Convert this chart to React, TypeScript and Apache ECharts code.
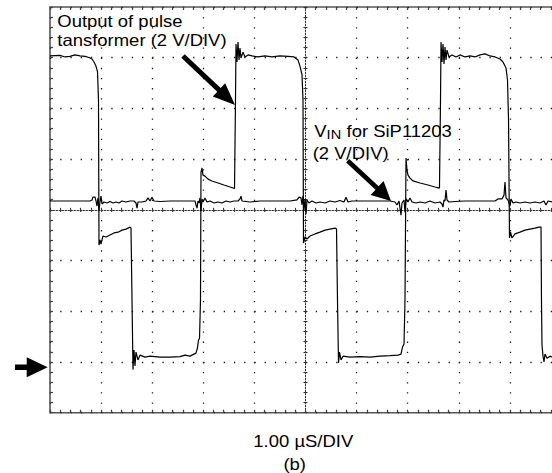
import React, { useEffect, useRef } from 'react';
import * as echarts from 'echarts';

// Time in µs (1.00 µS/DIV, 0 = screen centre), voltage in V (2 V/DIV)
const timeMin = -5;
const timeMax = 5;
const timeStep = 1;
const voltMin = -8;
const voltMax = 8;
const voltStep = 2;

// Output of pulse transformer
const pulseTransformer: [number, number][] = [
  [-5.000, 6.07], [-4.804, 6.09], [-4.706, 6.03], [-4.609, 6.05], [-4.511, 6.11], [-4.413, 6.07],
  [-4.315, 6.05], [-4.237, 6.01], [-4.178, 5.95], [-4.139, 5.83], [-4.100, 5.67], [-4.070, 5.44],
  [-4.051, 4.33], [-4.041, -1.39], [-4.022, -1.18], [-4.002, -1.35], [-3.963, -1.03], [-3.904, -1.07],
  [-3.826, -0.99], [-3.748, -0.91], [-3.669, -0.88], [-3.591, -0.80], [-3.513, -0.76], [-3.434, -0.68],
  [-3.415, -0.72], [-3.395, -3.56], [-3.376, -6.30], [-3.356, -5.53], [-3.337, -6.16], [-3.317, -5.61],
  [-3.278, -5.92], [-3.239, -5.73], [-3.141, -5.81], [-3.043, -5.77], [-2.847, -5.81], [-2.652, -5.81],
  [-2.456, -5.79], [-2.358, -5.73], [-2.260, -5.77], [-2.182, -5.69], [-2.143, -5.65], [-2.114, -5.45],
  [-2.094, -5.14], [-2.074, -5.06], [-2.055, -3.56], [-2.045, 1.49], [-2.025, 1.65], [-2.006, 1.37],
  [-1.967, 1.33], [-1.908, 1.21], [-1.830, 1.14], [-1.712, 1.06], [-1.595, 0.98], [-1.477, 0.90],
  [-1.389, 0.84], [-1.370, 4.33], [-1.360, 6.54], [-1.341, 5.83], [-1.321, 6.62], [-1.301, 5.91],
  [-1.282, 6.38], [-1.262, 5.99], [-1.223, 6.22], [-1.184, 6.03], [-1.125, 6.11], [-1.047, 6.07],
  [-0.930, 6.03], [-0.793, 6.07], [-0.656, 6.03], [-0.499, 6.07], [-0.342, 6.05], [-0.225, 6.03],
  [-0.147, 5.91], [-0.108, 5.67], [-0.068, 5.32], [-0.049, 4.33], [-0.039, -1.31], [-0.010, -1.07],
  [0.029, -1.15], [0.088, -1.03], [0.186, -0.95], [0.284, -0.88], [0.382, -0.80], [0.479, -0.76],
  [0.577, -0.72], [0.607, -0.76], [0.626, -3.56], [0.646, -6.04], [0.665, -5.61], [0.695, -5.92],
  [0.734, -5.77], [0.871, -5.81], [1.067, -5.79], [1.262, -5.81], [1.458, -5.77], [1.654, -5.75],
  [1.810, -5.73], [1.869, -5.69], [1.898, -5.41], [1.928, -5.29], [1.947, -3.56], [1.967, 2.04],
  [1.986, 1.57], [2.006, 1.37], [2.045, 1.25], [2.104, 1.14], [2.241, 1.06], [2.397, 0.98],
  [2.534, 0.90], [2.622, 0.86], [2.642, 4.33], [2.652, 6.62], [2.671, 5.83], [2.691, 6.54],
  [2.710, 5.75], [2.730, 6.42], [2.750, 5.91], [2.769, 6.30], [2.808, 6.03], [2.867, 6.11],
  [2.945, 6.03], [3.023, 6.11], [3.121, 6.03], [3.219, 6.07], [3.317, 6.03], [3.415, 6.11],
  [3.513, 6.15], [3.611, 6.07], [3.708, 6.03], [3.806, 5.95], [3.865, 5.83], [3.924, 5.59],
  [3.953, 5.12], [3.973, 3.54], [3.992, -1.11], [4.012, -0.88], [4.041, -1.11], [4.100, -0.95],
  [4.198, -0.88], [4.295, -0.80], [4.393, -0.76], [4.491, -0.72], [4.569, -0.68], [4.609, -0.68],
  [4.618, -3.56], [4.628, -5.33], [4.648, -5.77], [4.667, -6.00], [4.687, -5.69], [4.726, -5.85],
  [4.785, -5.77], [4.824, -5.81],
];

// VIN for SiP11203
const vinSiP11203: [number, number][] = [
  [-5.000, 0.35], [-4.804, 0.35], [-4.609, 0.35], [-4.413, 0.35], [-4.217, 0.35], [-4.178, 0.39],
  [-4.159, 0.50], [-4.119, 0.50], [-4.100, 0.35], [-4.080, 0.15], [-4.061, 0.47], [-4.041, -0.01],
  [-4.022, 0.31], [-4.002, 0.54], [-3.982, 0.23], [-3.943, 0.31], [-3.885, 0.27], [-3.826, 0.33],
  [-3.767, 0.27], [-3.708, 0.31], [-3.650, 0.27], [-3.591, 0.35], [-3.513, 0.31], [-3.434, 0.35],
  [-3.356, 0.35], [-3.317, 0.27], [-3.297, 0.07], [-3.278, 0.31], [-3.200, 0.31], [-3.121, 0.35],
  [-3.082, 0.47], [-3.043, 0.35], [-3.004, 0.50], [-2.965, 0.35], [-2.847, 0.33], [-2.652, 0.35],
  [-2.456, 0.35], [-2.260, 0.35], [-2.162, 0.35], [-2.143, 0.19], [-2.123, 0.07], [-2.104, 0.35],
  [-2.084, 0.27], [-2.065, 0.47], [-2.045, -0.05], [-2.025, 0.43], [-2.006, 0.31], [-1.967, 0.47],
  [-1.928, 0.31], [-1.869, 0.35], [-1.791, 0.27], [-1.712, 0.31], [-1.634, 0.27], [-1.556, 0.35],
  [-1.477, 0.31], [-1.399, 0.35], [-1.321, 0.35], [-1.282, 0.43], [-1.262, 0.54], [-1.243, 0.35],
  [-1.164, 0.33], [-1.086, 0.31], [-0.890, 0.35], [-0.695, 0.35], [-0.499, 0.35], [-0.303, 0.35],
  [-0.166, 0.39], [-0.127, 0.50], [-0.088, 0.47], [-0.068, 0.19], [-0.049, 0.54], [-0.029, -0.01],
  [-0.010, 0.43], [0.010, -0.17], [0.029, 0.39], [0.068, 0.27], [0.127, 0.35], [0.205, 0.27],
  [0.284, 0.31], [0.382, 0.27], [0.479, 0.35], [0.577, 0.31], [0.675, 0.37], [0.753, 0.31],
  [0.793, 0.50], [0.832, 0.31], [0.910, 0.35], [1.067, 0.35], [1.262, 0.35], [1.458, 0.35],
  [1.654, 0.35], [1.751, 0.31], [1.791, 0.19], [1.830, 0.35], [1.849, 0.07], [1.869, -0.21],
  [1.888, 0.27], [1.928, 0.39], [1.947, -0.09], [1.967, 0.43], [2.006, 0.31], [2.045, 0.47],
  [2.084, 0.31], [2.162, 0.27], [2.241, 0.31], [2.339, 0.27], [2.436, 0.35], [2.534, 0.27],
  [2.632, 0.31], [2.671, 0.23], [2.691, 0.11], [2.710, 0.39], [2.730, 0.35], [2.750, 0.78],
  [2.769, 0.39], [2.808, 0.31], [2.926, 0.33], [3.121, 0.35], [3.317, 0.35], [3.513, 0.35],
  [3.708, 0.35], [3.767, 0.43], [3.845, 0.43], [3.885, 0.58], [3.904, 1.10], [3.924, 0.47],
  [3.963, 0.39], [4.002, 0.15], [4.022, 0.43], [4.061, 0.27], [4.119, 0.31], [4.198, 0.27],
  [4.295, 0.31], [4.393, 0.27], [4.491, 0.31], [4.589, 0.27], [4.667, 0.35], [4.706, 0.19],
  [4.746, 0.35], [4.824, 0.31],
];

const labelOutput = ['Output of pulse', 'tansformer (2 V/DIV)'];
const labelVin = { main: 'V', sub: 'IN', rest: 'for SiP11203', scale: '(2 V/DIV)' };
const labelTimebase = '1.00 µS/DIV';
const labelFigure = '(b)';

const FONT = '"Liberation Sans", Arial, Helvetica, sans-serif';
const SX = 1.12;

function arrowPoints(x0: number, y0: number, x1: number, y1: number, sh: number, hl: number, hw: number) {
  const dx = x1 - x0, dy = y1 - y0;
  const L = Math.hypot(dx, dy);
  const ux = dx / L, uy = dy / L;
  const px = -uy, py = ux;
  const bx = x1 - ux * hl, by = y1 - uy * hl;
  return [
    [x0 + px * sh, y0 + py * sh],
    [bx + px * sh, by + py * sh],
    [bx + px * hw, by + py * hw],
    [x1, y1],
    [bx - px * hw, by - py * hw],
    [bx - px * sh, by - py * sh],
    [x0 - px * sh, y0 - py * sh],
  ];
}

function txt(text: string, x: number, y: number, size: number, align: string = 'left') {
  return {
    type: 'text',
    x,
    y,
    scaleX: SX,
    z: 20,
    style: {
      text,
      fontSize: size,
      fontFamily: FONT,
      fill: '#000',
      align,
      textAlign: align,
      verticalAlign: 'middle',
      textVerticalAlign: 'middle',
    },
  };
}

const tickColor = '#444';
const dotColor = '#1a1a1a';

function borderX(position: 'top' | 'bottom', withSplit: boolean) {
  return {
    type: 'value', min: timeMin, max: timeMax, interval: timeStep, position,
    axisLine: { show: false, onZero: false },
    axisTick: { show: true, inside: true, length: 3, lineStyle: { color: tickColor, width: 1.2 } },
    minorTick: { show: true, splitNumber: 5, length: 3, lineStyle: { color: tickColor, width: 1.2 } },
    axisLabel: { show: false },
    splitLine: { show: withSplit, lineStyle: { color: dotColor, width: 1.3, type: [1.3, 8.84] } },
    minorSplitLine: { show: false },
  };
}
function centreX(position: 'top' | 'bottom', showLine: boolean) {
  return {
    type: 'value', min: timeMin, max: timeMax, interval: timeStep, position,
    axisLine: { show: showLine, onZero: true, onZeroAxisIndex: 0, lineStyle: { color: '#333', width: 1, type: [1.5, 1.5] } },
    axisTick: { show: true, inside: false, length: 2, lineStyle: { color: '#333', width: 1 } },
    minorTick: { show: true, splitNumber: 5, length: 2, lineStyle: { color: '#333', width: 1 } },
    axisLabel: { show: false },
    splitLine: { show: false },
  };
}
function borderY(position: 'left' | 'right', withSplit: boolean) {
  return {
    type: 'value', min: voltMin, max: voltMax, interval: voltStep, position,
    axisLine: { show: false, onZero: false },
    axisTick: { show: true, inside: true, length: 3, lineStyle: { color: tickColor, width: 1.2 } },
    minorTick: { show: true, splitNumber: 5, length: 3, lineStyle: { color: tickColor, width: 1.2 } },
    axisLabel: { show: false },
    splitLine: { show: withSplit, lineStyle: { color: dotColor, width: 1.3, type: [1.3, 8.92] } },
  };
}
function centreY(position: 'left' | 'right', showLine: boolean) {
  return {
    type: 'value', min: voltMin, max: voltMax, interval: voltStep, position,
    axisLine: { show: showLine, onZero: true, onZeroAxisIndex: 0, lineStyle: { color: '#333', width: 1, type: [1.5, 1.5] } },
    axisTick: { show: true, inside: false, length: 2, lineStyle: { color: '#333', width: 1 } },
    minorTick: { show: true, splitNumber: 5, length: 2, lineStyle: { color: '#333', width: 1 } },
    axisLabel: { show: false },
    splitLine: { show: false },
  };
}

export default function App() {
  const ref = useRef<HTMLDivElement>(null);
  useEffect(() => {
    if (!ref.current) return;
    const chart = echarts.init(ref.current, undefined, { renderer: 'svg' });
    const option: any = {
      animation: false,
      backgroundColor: '#fff',
      textStyle: { fontFamily: FONT },
      grid: {
        left: 50, top: 7, width: 511, height: 405.7,
        show: true, borderColor: '#555', borderWidth: 1.6, backgroundColor: 'transparent',
        containLabel: false, outerBoundsMode: 'none',
      },
      xAxis: [borderX('bottom', true), borderX('top', false), centreX('bottom', true), centreX('top', false)],
      yAxis: [borderY('left', true), centreY('left', true), centreY('right', false)],
      series: [
        {
          name: 'Output of pulse transformer', type: 'line', data: pulseTransformer,
          xAxisIndex: 0, yAxisIndex: 0, symbol: 'none', showSymbol: false, silent: true,
          lineStyle: { color: '#000', width: 1.2 }, z: 5,
        },
        {
          name: 'VIN for SiP11203', type: 'line', data: vinSiP11203,
          xAxisIndex: 0, yAxisIndex: 0, symbol: 'none', showSymbol: false, silent: true,
          lineStyle: { color: '#000', width: 1.2 }, z: 5,
        },
      ],
      graphic: [
        txt(labelOutput[0], 57.3, 21.4, 16.5),
        txt(labelOutput[1], 57.3, 40.1, 16.5),
        txt(labelVin.main, 314.3, 131.2, 16.5),
        txt(labelVin.sub, 326.6, 134.7, 13),
        txt(labelVin.rest, 346.5, 131.2, 16.5),
        txt(labelVin.scale, 312.7, 153.8, 16.5),
        txt(labelTimebase, 303.3, 441, 16.5, 'center'),
        txt(labelFigure, 294.7, 464.5, 16.5, 'center'),
        { type: 'polygon', z: 20, shape: { points: arrowPoints(183, 56, 235, 105, 2.5, 22, 9) }, style: { fill: '#000' } },
        { type: 'polygon', z: 20, shape: { points: arrowPoints(347.7, 160.7, 391, 201, 2.3, 19, 9.5) }, style: { fill: '#000' } },
        { type: 'polygon', z: 20, shape: { points: arrowPoints(15, 367.3, 47.7, 367.3, 2.8, 21, 10) }, style: { fill: '#000' } },
      ],
    };
    chart.setOption(option);
    return () => chart.dispose();
  }, []);
  return (
    <div
      ref={ref}
      style={{ position: 'absolute', left: 0, top: 0, width: 552, height: 473, background: '#fff' }}
    />
  );
}
